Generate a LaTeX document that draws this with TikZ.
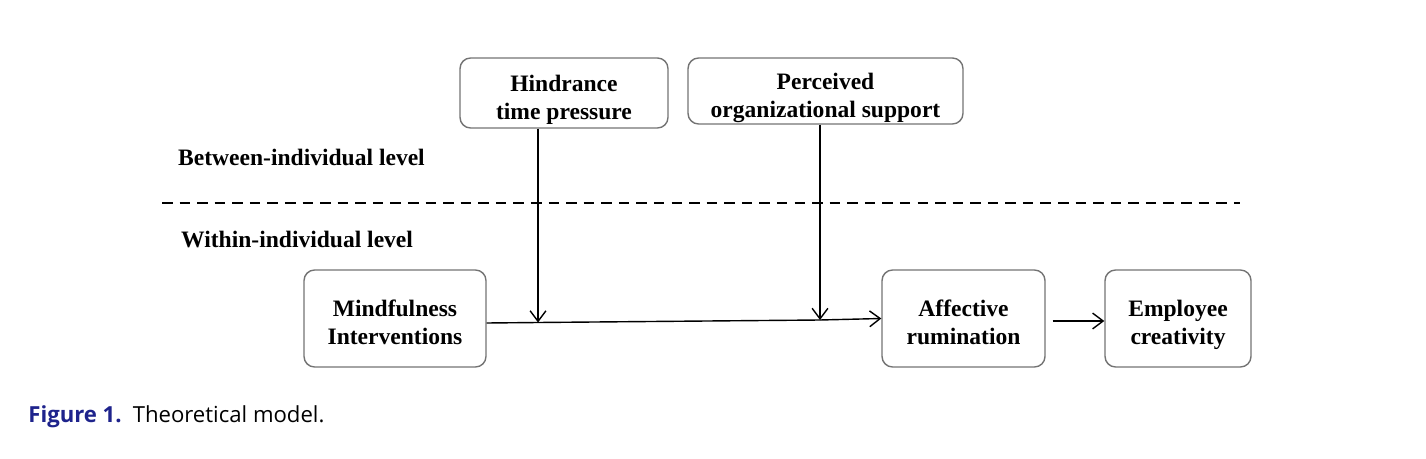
\documentclass[tikz,border=0pt]{standalone}
\usepackage{fontspec}
\setmainfont{Liberation Serif}
\setsansfont{Open Sans}
\usepackage{tikz}
\usetikzlibrary{positioning, arrows.meta}
\definecolor{capblue}{RGB}{30,35,140}
\newcommand{\boxgap}{\rule{0pt}{17pt}}

\begin{document}
\begin{tikzpicture}[x=0.02cm, y=-0.02cm,
    box/.style={draw=black!55, thick, rounded corners=6pt, align=center,
        font=\fontsize{13.4}{16}\selectfont\bfseries, inner sep=0pt},
    level/.style={font=\fontsize{13.4}{16}\selectfont\bfseries, anchor=west},
    link/.style={thick, ->, >={Straight Barb[length=6pt, width=9pt]}}]
    \useasboundingbox (0,0) rectangle (1426,459);

    \node [box, minimum width=4.16cm, minimum height=1.4cm] (hindrance) at (564,93)
        {\boxgap Hindrance\\time pressure\vphantom{y}};
    \node [box, minimum width=5.5cm, minimum height=1.32cm] (support) at (825.5,91)
        {\boxgap Perceived\\organizational support\vphantom{y}};
    \node [box, minimum width=3.64cm, minimum height=1.94cm] (mindful) at (395,318.5)
        {\boxgap Mindfulness\\Interventions\vphantom{y}};
    \node [box, minimum width=3.26cm, minimum height=1.94cm] (rumination) at (963.5,318.5)
        {\boxgap Affective\\rumination\vphantom{y}};
    \node [box, minimum width=2.92cm, minimum height=1.94cm] (creativity) at (1178,318.5)
        {\boxgap Employee\\creativity\vphantom{y}};

    \node [level] (between) at (172,157) {Between-individual level};
    \node [level] (within) at (175,240) {Within-individual level};

    % Now draw the lines:
    \draw [thick, dash pattern=on 6pt off 4pt] (162,203) coordinate (dl) -- (1240,203) coordinate (dr);

    \coordinate (m1) at (538,322.5);
    \coordinate (m2) at (820,320);
    \draw [thick] (mindful.east |- 0,323) -- (m1) -- (m2);
    \draw [link] (m2) -- (rumination.west |- 0,318.5);
    \draw [link] (hindrance.south -| m1) -- (m1);
    \draw [link] (support.south -| m2) -- (m2);
    \draw [link] (rumination.east |- 0,321) ++(7,0) -- (creativity.west |- 0,321);

    \node [anchor=base west, inner sep=0pt, font=\sffamily\fontsize{12.6}{14}\selectfont] (caption)
        at (28,422) {\textcolor{capblue}{\bfseries Figure 1.}\enspace Theoretical model.};
\end{tikzpicture}
\end{document}
